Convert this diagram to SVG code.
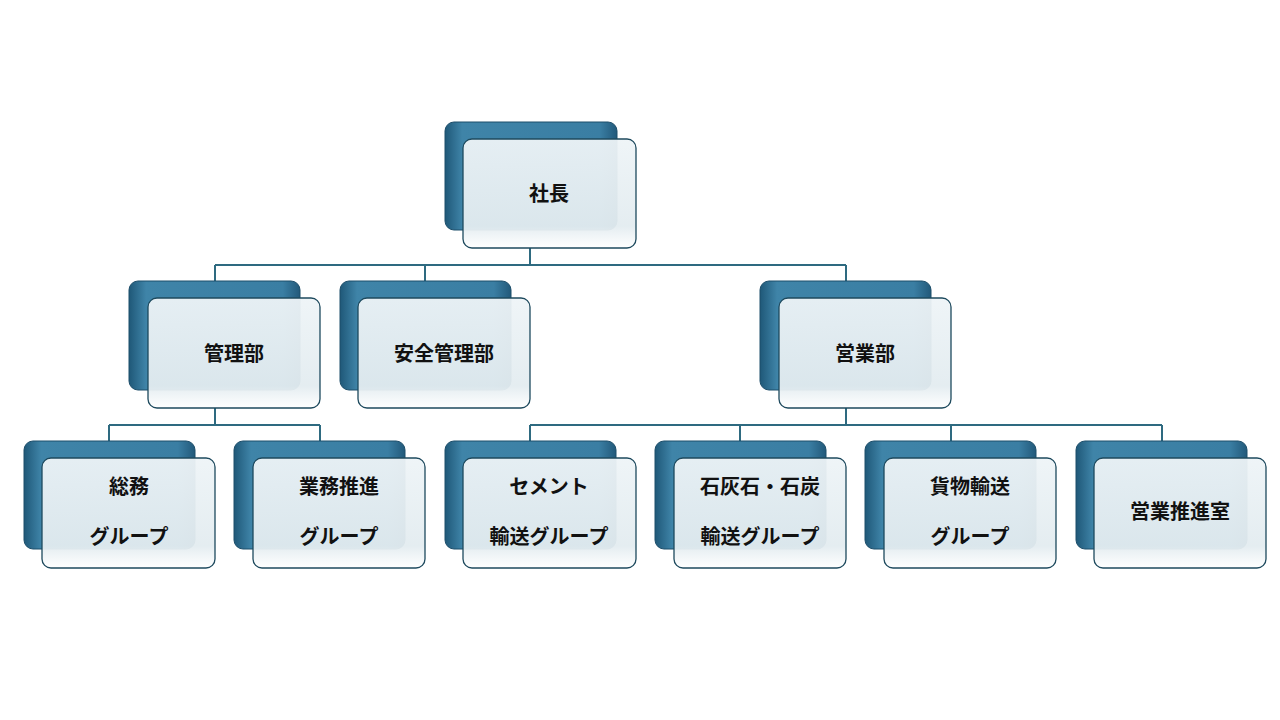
<svg xmlns="http://www.w3.org/2000/svg" width="1280" height="720" viewBox="0 0 1280 720">
<defs>
<linearGradient id="bk" x1="0" y1="0" x2="1" y2="0"><stop offset="0" stop-color="#1f5878"/><stop offset="0.1" stop-color="#3f84a8"/><stop offset="0.9" stop-color="#3a7ea3"/><stop offset="1" stop-color="#22597a"/></linearGradient>
<linearGradient id="fr" x1="0" y1="0" x2="0" y2="1"><stop offset="0" stop-color="#eef4f7" stop-opacity="0.95"/><stop offset="0.8" stop-color="#e3ecf0" stop-opacity="0.95"/><stop offset="1" stop-color="#ffffff" stop-opacity="0.95"/></linearGradient>
<style>
.b{fill:url(#bk);stroke:#1d4e6a;stroke-width:1}
.f{fill:url(#fr);stroke:#1e4a5e;stroke-width:1.3}
.c{fill:none;stroke:#2e6a80;stroke-width:2}
text{font-family:"Noto Sans CJK JP","Noto Sans",sans-serif;font-size:20px;font-weight:bold;fill:#111;text-anchor:middle;dominant-baseline:central}
</style>
</defs>
<rect width="1280" height="720" fill="#fff"/>
<g id="connectors">
<path class="c" d="M530 248V265M215 265H846M215 265V281M425 265V281M846 265V281"/>
<path class="c" d="M215 408V425M109 425H320M109 425V441M320 425V441"/>
<path class="c" d="M846 408V425M530 425H1162M530 425V441M740 425V441M951 425V441M1162 425V441"/>
</g>
<g id="n0"><rect class="b" x="445" y="122" width="172" height="108" rx="9"/><rect class="f" x="463" y="139" width="173" height="109" rx="9"/><text x="549" y="192">社長</text></g>
<g id="n1"><rect class="b" x="129" y="281" width="171" height="109" rx="9"/><rect class="f" x="148" y="298" width="172" height="110" rx="9"/><text x="234" y="352">管理部</text></g>
<g id="n2"><rect class="b" x="340" y="281" width="171" height="109" rx="9"/><rect class="f" x="358" y="298" width="172" height="110" rx="9"/><text x="444" y="352">安全管理部</text></g>
<g id="n3"><rect class="b" x="760" y="281" width="171" height="109" rx="9"/><rect class="f" x="779" y="298" width="172" height="110" rx="9"/><text x="865" y="352">営業部</text></g>
<g id="n4"><rect class="b" x="24" y="441" width="171" height="108" rx="9"/><rect class="f" x="42" y="458" width="173" height="110" rx="9"/><text x="129" y="485">総務</text><text x="129" y="535">グループ</text></g>
<g id="n5"><rect class="b" x="234" y="441" width="171" height="108" rx="9"/><rect class="f" x="253" y="458" width="172" height="110" rx="9"/><text x="339" y="485">業務推進</text><text x="339" y="535">グループ</text></g>
<g id="n6"><rect class="b" x="445" y="441" width="171" height="108" rx="9"/><rect class="f" x="463" y="458" width="173" height="110" rx="9"/><text x="549" y="485">セメント</text><text x="549" y="535">輸送グループ</text></g>
<g id="n7"><rect class="b" x="655" y="441" width="171" height="108" rx="9"/><rect class="f" x="674" y="458" width="172" height="110" rx="9"/><text x="760" y="485">石灰石・石炭</text><text x="760" y="535">輸送グループ</text></g>
<g id="n8"><rect class="b" x="865" y="441" width="171" height="108" rx="9"/><rect class="f" x="884" y="458" width="172" height="110" rx="9"/><text x="970" y="485">貨物輸送</text><text x="970" y="535">グループ</text></g>
<g id="n9"><rect class="b" x="1076" y="441" width="171" height="108" rx="9"/><rect class="f" x="1094" y="458" width="172" height="110" rx="9"/><text x="1180" y="510">営業推進室</text></g>
</svg>
